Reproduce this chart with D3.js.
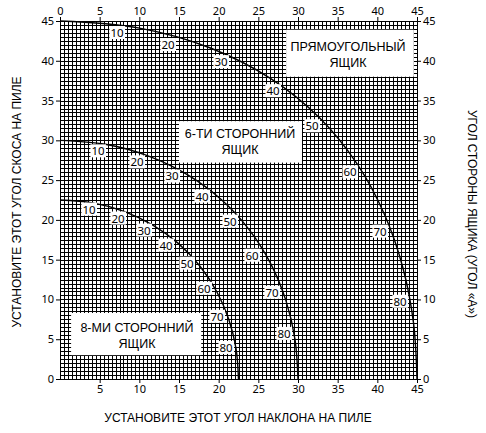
<!DOCTYPE html>
<html><head><meta charset="utf-8">
<script src="https://cdn.jsdelivr.net/npm/d3@7"></script>
<style>body{margin:0;background:#fff}svg{display:block}</style>
</head><body><svg id="c" width="486" height="433"></svg>
<script>
// ---- data ----
const angleLabels = [10,20,30,40,50,60,70,80];
// curve points [miter, bevel] at side angles 0..90 step 10
const rectCurve = [[0,45],[9.85,44.14],[18.88,41.64],[26.57,37.76],[32.74,32.80],[37.45,27.03],[40.89,20.70],[43.22,13.99],[44.56,7.05],[45,0]];
const hexCurve  = [[0,30],[5.72,29.50],[11.17,28.02],[16.10,25.66],[20.36,22.52],[23.86,18.75],[26.57,14.48],[28.48,9.85],[29.62,4.98],[30,0]];
const octCurve  = [[0,22.5],[4.11,22.14],[8.06,21.08],[11.70,19.35],[14.91,17.05],[17.60,14.24],[19.73,11.03],[21.27,7.52],[22.19,3.81],[22.5,0]];
// label anchor points (data units) for 10..80
const rectLabelPos = [[7.19,43.49],[13.61,41.98],[20.30,39.83],[26.85,36.18],[31.77,31.77],[36.56,25.97],[40.34,18.53],[42.86,9.71]];
const hexLabelPos  = [[4.79,28.62],[9.71,27.23],[14.12,25.46],[17.90,22.94],[21.43,19.79],[24.20,15.50],[26.72,10.84],[28.24,5.67]];
const octLabelPos  = [[3.66,21.30],[7.31,20.17],[10.59,18.66],[13.36,16.77],[16.01,14.50],[18.15,11.35],[19.79,7.82],[20.93,3.91]];
const tickValues = [0,5,10,15,20,25,30,35,40,45];
const bottomTickValues = [5,10,15,20,25,30,35,40,45];
const boxNames = [["ПРЯМОУГОЛЬНЫЙ","ЯЩИК"],["6-ТИ СТОРОННИЙ","ЯЩИК"],["8-МИ СТОРОННИЙ","ЯЩИК"]];
// white areas [x0,x1,y0,y1] in data units
const boxAreas = [[28.5,44.6,38,43.9],[15,30.5,27.2,32.4],[1.4,17.8,3,8.3]];
const xTitle = "УСТАНОВИТЕ ЭТОТ УГОЛ НАКЛОНА НА ПИЛЕ";
const yTitle = "УСТАНОВИТЕ ЭТОТ УГОЛ СКОСА НА ПИЛЕ";
const y2Title = "УГОЛ СТОРОНЫ ЯЩИКА (УГОЛ «А»)";

// ---- drawing ----
const svg = d3.select("#c");
const x = d3.scaleLinear().domain([0,45]).range([60,417]);
const y = d3.scaleLinear().domain([0,45]).range([379,21]);
const numFont = "'Noto Sans', sans-serif";
const txtFont = "'Liberation Sans', Arial, sans-serif";

const grid = svg.append("g").attr("shape-rendering","crispEdges").attr("stroke","#000").attr("stroke-width",1);
const gv = d3.range(0,45.01,0.5);
grid.selectAll("line.v").data(gv).join("line").attr("class","v")
  .attr("x1",d=>Math.round(x(d))+0.5).attr("x2",d=>Math.round(x(d))+0.5).attr("y1",y(45)).attr("y2",y(0));
grid.selectAll("line.h").data(gv).join("line").attr("class","h")
  .attr("y1",d=>Math.round(y(d))+0.5).attr("y2",d=>Math.round(y(d))+0.5).attr("x1",x(0)).attr("x2",x(45));

// white boxes
svg.append("g").selectAll("rect").data(boxAreas).join("rect")
  .attr("x",d=>x(d[0])).attr("y",d=>y(d[3])).attr("width",d=>x(d[1])-x(d[0])).attr("height",d=>y(d[2])-y(d[3]))
  .attr("fill","#fff");

// curves
const line = d3.line().x(d=>x(d[0])).y(d=>y(d[1])).curve(d3.curveCatmullRom.alpha(0.5));
[rectCurve,hexCurve,octCurve].forEach(c=>{
  svg.append("path").attr("d",line(c)).attr("fill","none").attr("stroke","#000").attr("stroke-width",1.4);
});

// curve labels
[rectLabelPos,hexLabelPos,octLabelPos].forEach(pos=>{
  const g = svg.append("g");
  pos.forEach((p,i)=>{
    const t = g.append("text").attr("x",x(p[0])).attr("y",y(p[1])).attr("dy","0.35em")
      .attr("text-anchor","middle").attr("font-family",numFont).attr("font-size",11.5).text(angleLabels[i]);
    const bb = t.node().getBBox();
    g.insert("rect","text").attr("x",bb.x-1).attr("y",bb.y+1).attr("width",bb.width+2).attr("height",bb.height-2).attr("fill","#fff");
  });
});

// box titles
const titleCenters = [[348,47],[240,134],[137,328]];
boxNames.forEach((n,i)=>{
  const [cx,cy] = titleCenters[i];
  n.forEach((s,j)=>{
    svg.append("text").attr("x",cx).attr("y",cy+j*16).attr("dy","0.35em").attr("text-anchor","middle")
      .attr("font-family",txtFont).attr("font-size",12.5).text(s);
  });
});

// axes
function styleAxis(g){
  g.select(".domain").remove();
  g.selectAll("text").attr("font-family",numFont).attr("font-size",11).attr("fill","#000");
  g.selectAll("line").attr("stroke","#000");
}
svg.append("g").attr("transform",`translate(0,${y(45)})`)
  .call(d3.axisTop(x).tickValues(tickValues).tickSize(4).tickPadding(2)).call(styleAxis);
svg.append("g").attr("transform",`translate(0,${y(0)})`)
  .call(d3.axisBottom(x).tickValues(bottomTickValues).tickSize(4).tickPadding(2)).call(styleAxis);
svg.append("g").attr("transform",`translate(${x(0)},0)`)
  .call(d3.axisLeft(y).tickValues(tickValues).tickSize(4).tickPadding(2)).call(styleAxis);
svg.append("g").attr("transform",`translate(${x(45)},0)`)
  .call(d3.axisRight(y).tickValues(tickValues).tickSize(4).tickPadding(2)).call(styleAxis);

// axis titles
svg.append("text").attr("x",238).attr("y",418).attr("dy","0.35em").attr("text-anchor","middle")
  .attr("font-family",txtFont).attr("font-size",12).text(xTitle);
svg.append("text").attr("transform","translate(17,202) rotate(-90)").attr("dy","0.35em").attr("text-anchor","middle")
  .attr("font-family",txtFont).attr("font-size",12).text(yTitle);
svg.append("text").attr("transform","translate(472,214) rotate(90)").attr("dy","0.35em").attr("text-anchor","middle")
  .attr("font-family",txtFont).attr("font-size",12).text(y2Title);
</script></body></html>
